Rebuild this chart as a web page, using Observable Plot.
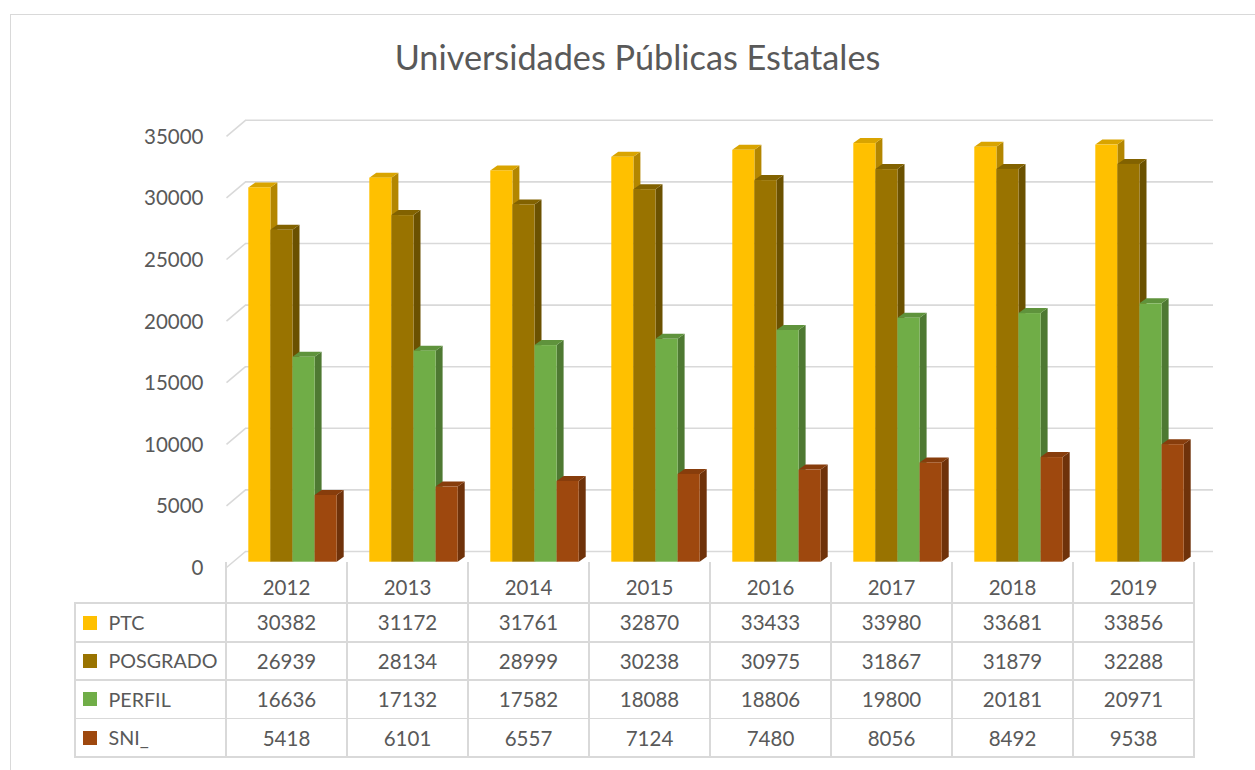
<!DOCTYPE html>
<html>
<head>
<meta charset="utf-8">
<script src="https://cdn.jsdelivr.net/npm/d3@7"></script>
<script src="https://cdn.jsdelivr.net/npm/@observablehq/plot@0.6"></script>
<style>
html, body { margin: 0; padding: 0; background: #ffffff; width: 1255px; height: 770px; overflow: hidden; }
body { position: relative; font-family: Lato, "Open Sans", sans-serif; color: #595959; }
#frame { position: absolute; left: 10px; top: 14px; width: 1300px; height: 800px; border: 1.5px solid #d9d9d9; box-sizing: border-box; }
#title { position: absolute; left: 10px; top: 40px; width: 1255px; text-align: center; white-space: nowrap; line-height: 1; color: #595959; }
#chart { position: absolute; left: 0; top: 100px; }
.line { position: absolute; background: #d9d9d9; }
.cell { position: absolute; display: flex; align-items: center; justify-content: center; white-space: nowrap; color: #595959; }
.lab { justify-content: flex-start; }
.key { position: absolute; width: 14px; height: 14px; }
</style>
</head>
<body>
<div id="frame"></div>
<div id="title">Universidades Públicas Estatales<span id="bl" style="display:inline-block;width:0;height:0"></span></div>
<div id="chart"></div>
<div id="tbl"></div>
<script>
// ---------- data ----------
const years = ["2012", "2013", "2014", "2015", "2016", "2017", "2018", "2019"];
const seriesNames = ["PTC", "POSGRADO", "PERFIL", "SNI_"];
const ptc = [30382, 31172, 31761, 32870, 33433, 33980, 33681, 33856];
const posgrado = [26939, 28134, 28999, 30238, 30975, 31867, 31879, 32288];
const perfil = [16636, 17132, 17582, 18088, 18806, 19800, 20181, 20971];
const sni = [5418, 6101, 6557, 7124, 7480, 8056, 8492, 9538];
const yTicks = [0, 5000, 10000, 15000, 20000, 25000, 30000, 35000];
const seriesColors = ["#FFC000", "#997300", "#70AD47", "#9E480E"];
const seriesValues = [ptc, posgrado, perfil, sni];

// ---------- fonts ----------
const FAMILY = "Lato";
const ctx = document.createElement("canvas").getContext("2d");
function fit(text, target) {
  ctx.font = `100px ${FAMILY}`;
  return 100 * target / ctx.measureText(text).width;
}
const titleFs = fit("Universidades Públicas Estatales", 486);
const numFs = fit("30382", 59.5);
const labFs = fit("POSGRADO", 109);

// title
const title = document.getElementById("title");
title.style.fontSize = titleFs + "px";
title.style.fontFamily = FAMILY;
{
  const b = document.getElementById("bl").getBoundingClientRect().bottom;
  title.style.top = (40 + 69.5 - b) + "px";
}

// ---------- geometry ----------
const SVG_TOP = 100;
const W = 1255, H = 470;
const X0 = 226, X1 = 1194;              // front plane left/right (page px)
const PXX = (X1 - X0) / years.length;   // px per category
const Y0 = 561.7 - SVG_TOP;             // bar front-face zero (svg px)
const YT = 130.5 - SVG_TOP;             // bar front-face 35000
const PXY = (Y0 - YT) / 35000;          // px per unit
const BW = 22.1 / PXX;                  // bar width in x units
const GROUP_OFF = 22.3 / PXX;           // first bar offset inside category
const DX = 7 / PXX, DY = 5 / PXY;       // bar depth
const GRID_FRONT = 5.3, GRID_DX = 19, GRID_DY = 16; // px

// ---------- marks ----------
const marks = [];
marks.push(Plot.ruleY(yTicks, {y: d => d, x1: 0, x2: years.length, dx: GRID_DX, dy: GRID_FRONT - GRID_DY, stroke: "#d9d9d9", strokeWidth: 1.6}));
marks.push(Plot.link(yTicks, {
  x1: 0, x2: GRID_DX / PXX,
  y1: d => d - GRID_FRONT / PXY, y2: d => d + (GRID_DY - GRID_FRONT) / PXY,
  stroke: "#d9d9d9", strokeWidth: 1.6
}));
marks.push(Plot.text(yTicks, {
  x: 0, y: d => d, dx: -23, dy: GRID_FRONT + 1, text: d => String(d), textAnchor: "end",
  fill: "#595959", fontSize: numFs, fontFamily: FAMILY
}));

seriesValues.forEach((vals, s) => {
  const base = d3.color(seriesColors[s]);
  const side = base.darker(1).formatHex();
  const top = base.darker(0.45).formatHex();
  const bars = vals.map((v, i) => {
    const x1 = i + GROUP_OFF + s * BW;
    return {key: `${s}-${i}`, v, x1, x2: x1 + BW};
  });
  const sideData = bars.flatMap(b => [
    {key: b.key, x: b.x2, y1: 0, y2: b.v},
    {key: b.key, x: b.x2 + DX, y1: DY, y2: b.v + DY}
  ]);
  const topData = bars.flatMap(b => [
    {key: b.key, y: b.v, x1: b.x1, x2: b.x2},
    {key: b.key, y: b.v + DY, x1: b.x1 + DX, x2: b.x2 + DX}
  ]);
  marks.push(Plot.areaY(sideData, {x: "x", y1: "y1", y2: "y2", z: "key", fill: side}));
  marks.push(Plot.areaX(topData, {y: "y", x1: "x1", x2: "x2", z: "key", fill: top}));
  marks.push(Plot.rect(bars, {x1: "x1", x2: "x2", y1: 0, y2: "v", fill: base.formatHex()}));
});

const chart = Plot.plot({
  width: W,
  height: H,
  x: {domain: [0, years.length], range: [X0, X1], axis: null},
  y: {domain: [0, 35000], range: [Y0, YT], axis: null},
  style: {background: "transparent", overflow: "visible"},
  marks
});
document.getElementById("chart").appendChild(chart);

// ---------- data table ----------
const tbl = document.getElementById("tbl");
function line(l, t, w, h) {
  const d = document.createElement("div");
  d.className = "line";
  Object.assign(d.style, {left: l + "px", top: t + "px", width: w + "px", height: h + "px"});
  tbl.appendChild(d);
}
function cell(text, l, t, w, h, fs, extra) {
  const d = document.createElement("div");
  d.className = "cell" + (extra ? " " + extra : "");
  Object.assign(d.style, {left: l + "px", top: t + "px", width: w + "px", height: h + "px", fontSize: fs + "px", fontFamily: FAMILY});
  d.textContent = text;
  tbl.appendChild(d);
  return d;
}
const LW = 1.8;
const TL = 75;                         // table left
const HDR_TOP = 570, ROW0 = 603.3, RH = 38.4;
const rowLines = seriesNames.map((_, k) => ROW0 + RH * k).concat([ROW0 + RH * seriesNames.length]);
const colLines = [TL].concat(years.map((_, i) => X0 + PXX * i)).concat([X1]);
// header verticals
for (let i = 0; i <= years.length; i++) line(X0 + PXX * i - LW / 2, 562, LW, ROW0 - 562);
// body verticals
colLines.forEach(x => line(x - LW / 2, ROW0, LW, rowLines[rowLines.length - 1] - ROW0 + LW / 2));
// horizontals
rowLines.forEach(y => line(TL - LW / 2, y - LW / 2, X1 - TL + LW, LW));
// year labels
years.forEach((yr, i) => cell(yr, X0 + PXX * i, HDR_TOP, PXX, ROW0 - HDR_TOP, numFs));
// rows
seriesNames.forEach((name, k) => {
  const t = rowLines[k], h = RH;
  const key = document.createElement("div");
  key.className = "key";
  Object.assign(key.style, {left: "83px", top: (t + h / 2 - 7) + "px", background: seriesColors[k]});
  tbl.appendChild(key);
  cell(name, 108.5, t, X0 - 108.5, h, labFs, "lab");
  seriesValues[k].forEach((v, i) => cell(String(v), X0 + PXX * i, t, PXX, h, numFs));
});
</script>
</body>
</html>
